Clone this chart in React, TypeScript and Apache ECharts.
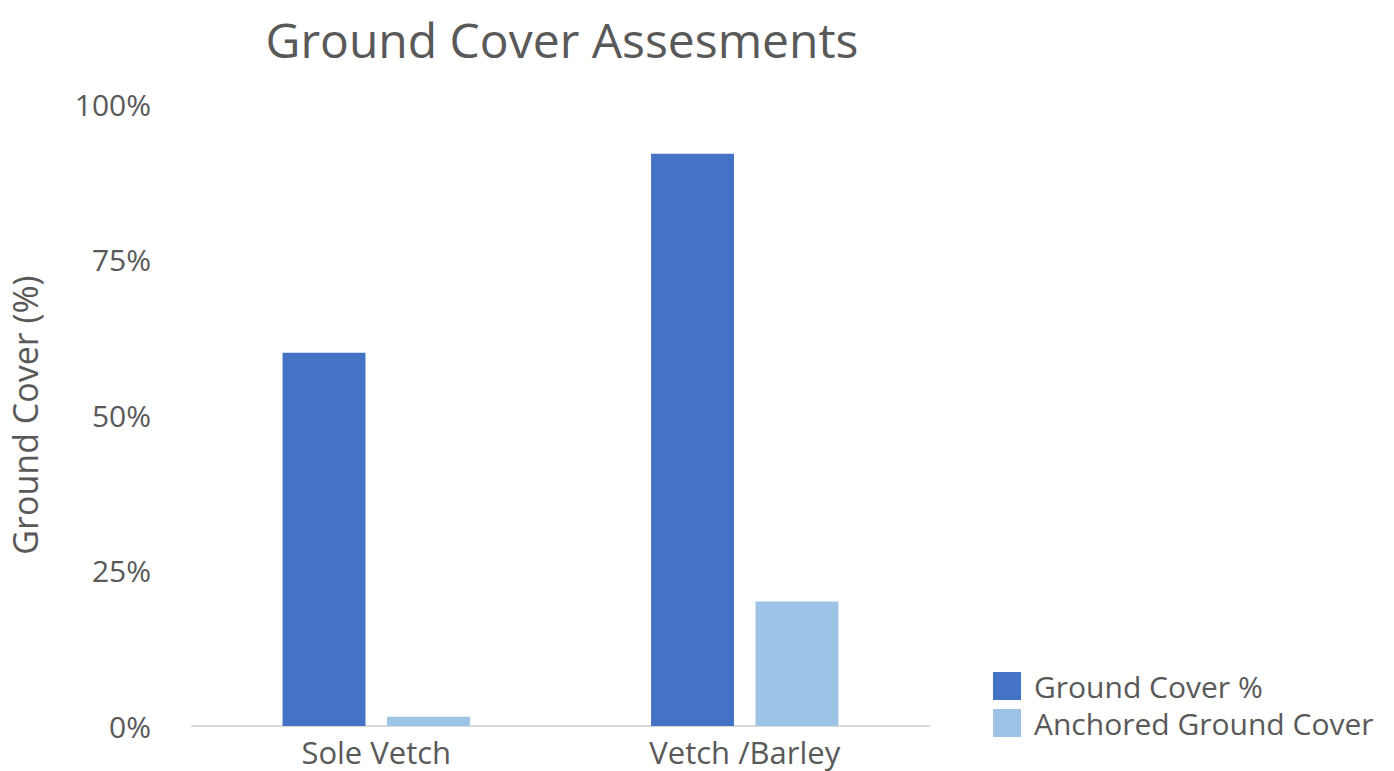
import React, { useEffect, useRef } from "react";
import * as echarts from "echarts";

const categories = ["Sole Vetch", "Vetch /Barley"];
const groundCover = [60, 92];
const anchoredCover = [1.5, 20];
const yTicks = [0, 25, 50, 75, 100];

export default function App() {
  const ref = useRef<HTMLDivElement>(null);
  useEffect(() => {
    if (!ref.current) return;
    const chart = echarts.init(ref.current, null, { renderer: "svg" });
    const font = "'Open Sans', 'Noto Sans', sans-serif";
    chart.setOption({
      animation: false,
      backgroundColor: "#ffffff",
      textStyle: { fontFamily: font },
      title: {
        text: "Ground Cover Assesments",
        left: 557,
        top: 10,
        textAlign: "center",
        textStyle: { fontFamily: font, fontSize: 48, fontWeight: "normal", color: "#595959" },
      },
      grid: { left: 187, right: 465, top: 104, bottom: 45, containLabel: false },
      legend: {
        orient: "vertical",
        left: 988,
        top: 666,
        itemWidth: 28,
        itemHeight: 28,
        itemGap: 7,
        icon: "rect",
        textStyle: { fontFamily: font, fontSize: 30, lineHeight: 30, color: "#595959", padding: [0, 0, 0, 8] },
        data: ["Ground Cover %", "Anchored Ground Cover"],
      },
      xAxis: {
        type: "category",
        data: categories,
        axisLine: { lineStyle: { color: "#d9d9d9", width: 2 } },
        axisTick: { show: false },
        axisLabel: { fontFamily: font, fontSize: 31, color: "#595959", margin: 10 },
      },
      yAxis: {
        type: "value",
        min: 0,
        max: 100,
        interval: 25,
        name: "Ground Cover (%)",
        nameLocation: "middle",
        nameGap: 150,
        nameRotate: 90,
        nameTextStyle: { fontFamily: font, fontSize: 34, color: "#595959" },
        splitLine: { show: false },
        axisLine: { show: false },
        axisTick: { show: false },
        axisLabel: {
          fontFamily: font,
          fontSize: 30,
          color: "#595959",
          margin: 41,
          formatter: (v: number) => (yTicks.includes(v) ? v + "%" : ""),
        },
      },
      series: [
        {
          name: "Ground Cover %",
          type: "bar",
          data: groundCover,
          barWidth: "22.5%",
          barGap: "26%",
          itemStyle: { color: "#4472c4" },
        },
        {
          name: "Anchored Ground Cover",
          type: "bar",
          data: anchoredCover,
          barWidth: "22.5%",
          itemStyle: { color: "#9dc3e6" },
        },
      ],
    });
    return () => chart.dispose();
  }, []);
  return <div ref={ref} style={{ width: 1394, height: 771, position: "absolute", left: 0, top: 0 }} />;
}
